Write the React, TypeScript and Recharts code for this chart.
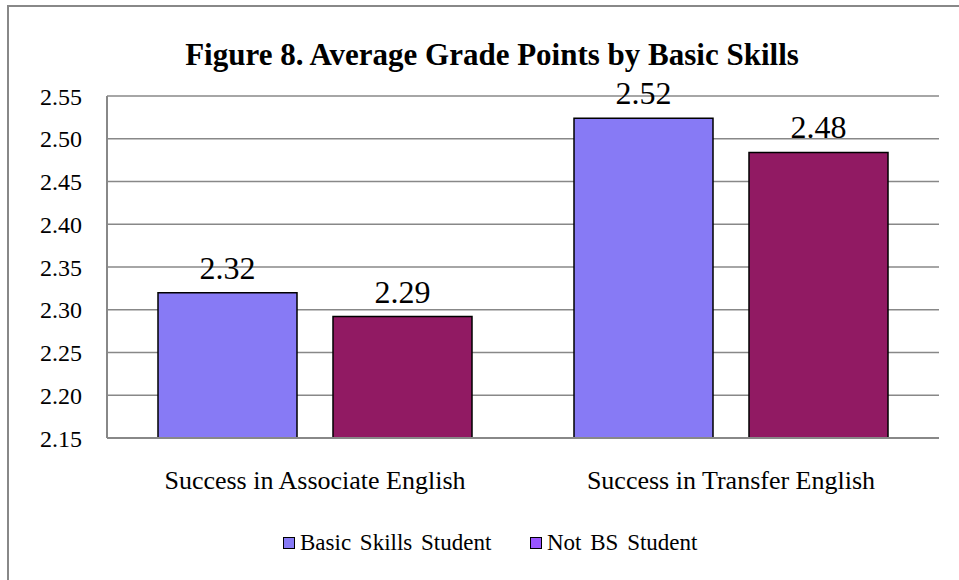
import { BarChart, Bar, XAxis, YAxis, CartesianGrid, LabelList } from "recharts";

const categories = ["Success in Associate English", "Success in Transfer English"];
const basicSkills = [2.32, 2.524];
const notBS = [2.292, 2.484];
const yTicks = [2.15, 2.2, 2.25, 2.3, 2.35, 2.4, 2.45, 2.5, 2.55];

const seriesNames = ["Basic Skills Student", "Not BS Student"];
const barColors = ["#877AF5", "#911A63"];
const legendColors = ["#877AF5", "#9955FF"];
const legendLeft = [283, 530];

const font = "'Liberation Serif', 'Times New Roman', serif";

const data = categories.map((c, i) => ({
  name: c,
  bs: basicSkills[i],
  nbs: notBS[i],
}));

export default function App() {
  return (
    <div
      style={{
        position: "absolute",
        left: 0,
        top: 0,
        width: 959,
        height: 580,
        background: "#fff",
        fontFamily: font,
      }}
    >
      <div
        style={{
          position: "absolute",
          left: 7,
          top: 5,
          right: 0,
          bottom: 0,
          borderLeft: "2px solid #888",
          borderTop: "2px solid #888",
        }}
      />
      <div
        style={{
          position: "absolute",
          left: 0,
          width: 984,
          top: 37,
          textAlign: "center",
          fontWeight: "bold",
          fontSize: 31,
          lineHeight: "normal",
          color: "#000",
        }}
      >
        Figure 8. Average Grade Points by Basic Skills
      </div>
      <div style={{ position: "absolute", left: 0, top: 0 }}>
        <BarChart
          width={959}
          height={580}
          data={data}
          margin={{ top: 96, right: 20, bottom: 112, left: 0 }}
          barSize={139}
          barGap={36}
          style={{ fontFamily: font }}
        >
          <CartesianGrid vertical={false} stroke="#888" strokeWidth={1.5} />
          <XAxis
            dataKey="name"
            axisLine={{ stroke: "#888", strokeWidth: 2 }}
            tickLine={false}
            tickSize={0}
            tickMargin={33}
            tick={{ fill: "#000", fontSize: 26, fontFamily: font }}
          />
          <YAxis
            width={107}
            domain={[2.15, 2.55]}
            ticks={yTicks}
            allowDataOverflow
            tickFormatter={(v: number) => v.toFixed(2)}
            axisLine={{ stroke: "#888", strokeWidth: 2 }}
            tickLine={false}
            tickSize={0}
            tickMargin={25}
            tick={{ fill: "#000", fontSize: 24, fontFamily: font }}
          />
          <Bar
            dataKey="bs"
            name={seriesNames[0]}
            fill={barColors[0]}
            stroke="#000"
            strokeWidth={1.5}
            isAnimationActive={false}
          >
            <LabelList
              dataKey="bs"
              position="top"
              offset={14}
              formatter={(v: any) => Number(v).toFixed(2)}
              fill="#000"
              fontSize={32}
              fontFamily={font}
            />
          </Bar>
          <Bar
            dataKey="nbs"
            name={seriesNames[1]}
            fill={barColors[1]}
            stroke="#000"
            strokeWidth={1.5}
            isAnimationActive={false}
          >
            <LabelList
              dataKey="nbs"
              position="top"
              offset={14}
              formatter={(v: any) => Number(v).toFixed(2)}
              fill="#000"
              fontSize={32}
              fontFamily={font}
            />
          </Bar>
        </BarChart>
      </div>
      {seriesNames.map((n, i) => (
        <div
          key={n}
          style={{
            position: "absolute",
            left: legendLeft[i],
            top: 530,
            display: "flex",
            alignItems: "center",
            fontSize: 23,
            wordSpacing: 3,
            whiteSpace: "nowrap",
            color: "#000",
          }}
        >
          <span
            style={{
              display: "inline-block",
              width: 10,
              height: 10,
              background: legendColors[i],
              border: "1.5px solid #000",
              marginRight: 5,
            }}
          />
          <span>{n}</span>
        </div>
      ))}
    </div>
  );
}
